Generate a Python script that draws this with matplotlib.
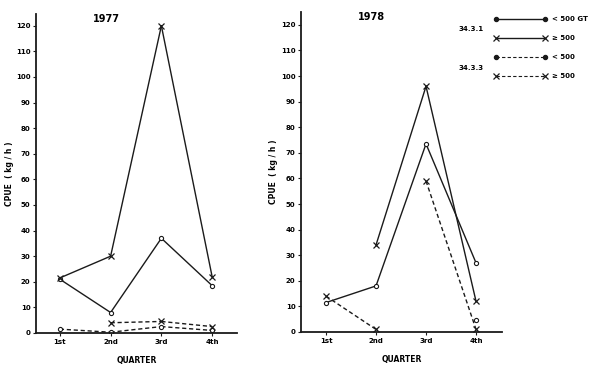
import matplotlib
matplotlib.use("Agg")
import matplotlib.pyplot as plt
from matplotlib.lines import Line2D
import numpy as np

quarters = ["1st", "2nd", "3rd", "4th"]
qpos = [1, 2, 3, 4]

# 1977 (None = no observation)
y77_a_small = [21, 8, 37, 18.5]      # 34.3.1  < 500 GT
y77_a_large = [21.5, 30, 120, 22]    # 34.3.1  >= 500
y77_b_small = [1.5, 0.3, 2.5, 1]     # 34.3.3  < 500
y77_b_large = [None, 4, 4.5, 2.5]    # 34.3.3  >= 500

# 1978
y78_a_small = [11.5, 18, 73.5, 27]
y78_a_large = [None, 34, 96, 12]
y78_b_small = [None, None, None, 4.5]
y78_b_large = [14, 1, 59, 1]
# 1978 34.3.3 >= 500 line is not drawn between 2nd and 3rd quarter
y78_b_large_links = [True, False, True]

yticks = list(range(0, 121, 10))
ink = "#1a1a1a"


def to_arr(vals):
    return np.array([np.nan if v is None else v for v in vals], dtype=float)


def draw_series(ax, vals, ls, marker, links=None):
    y = to_arr(vals)
    x = np.array(qpos, dtype=float)
    ok = ~np.isnan(y)
    if links is None:
        links = [True] * (len(y) - 1)
    for i in range(len(y) - 1):
        if ok[i] and ok[i + 1] and links[i]:
            ln, = ax.plot(x[i:i + 2], y[i:i + 2], color=ink, lw=1.0)
            if ls == "--":
                ln.set_dashes((3, 2))
    if marker == "o":
        ax.plot(x[ok], y[ok], "o", ms=3, mfc="white", mec=ink, mew=0.8, ls="none")
    else:
        ax.plot(x[ok], y[ok], "x", ms=4, color=ink, mew=0.9, ls="none")


def style_axes(ax, title, ylpad):
    for s in ["top", "right"]:
        ax.spines[s].set_visible(False)
    for s in ["left", "bottom"]:
        ax.spines[s].set_linewidth(1.3)
        ax.spines[s].set_color(ink)
    ax.set_yticks(yticks)
    ax.set_yticklabels([str(t) for t in yticks], fontsize=5, fontweight="bold")
    ax.set_xticks(qpos)
    ax.set_xticklabels(quarters, fontsize=5, fontweight="bold")
    ax.tick_params(axis="both", length=2, width=0.8, color=ink, pad=2)
    ax.set_xlabel("QUARTER", fontsize=5.5, fontweight="bold", labelpad=8)
    ax.set_ylabel("CPUE  ( kg / h )", fontsize=5.5, fontweight="bold", labelpad=ylpad)
    ax.text(0.35, 1.0, title, transform=ax.transAxes, fontsize=7, fontweight="bold",
            ha="center", va="top")


fig = plt.figure(figsize=(6, 3.69), dpi=100)

ax1 = fig.add_axes([0.06, 0.0976, 0.335, 0.8645])
draw_series(ax1, y77_a_small, "-", "o")
draw_series(ax1, y77_a_large, "-", "x")
draw_series(ax1, y77_b_small, "--", "o")
draw_series(ax1, y77_b_large, "--", "x")
ax1.set_xlim(0.53, 4.49)
ax1.set_ylim(0, 124.6)
style_axes(ax1, "1977", 1)

ax2 = fig.add_axes([0.5017, 0.1003, 0.335, 0.867])
draw_series(ax2, y78_a_small, "-", "o")
draw_series(ax2, y78_a_large, "-", "x")
draw_series(ax2, y78_b_small, "--", "o")
draw_series(ax2, y78_b_large, "--", "x", y78_b_large_links)
ax2.set_xlim(0.5, 4.52)
ax2.set_ylim(0, 125)
style_axes(ax2, "1978", 2)

# legend drawn in figure coordinates
W, H = 600.0, 369.0
rows = [(19, "-", "o", "< 500 GT"), (38, "-", "x", "\u2265 500"),
        (57, "--", "o", "< 500"), (76, "--", "x", "\u2265 500")]
for ypix, ls, mk, lab in rows:
    yf = 1 - ypix / H
    ln = Line2D([496 / W, 545 / W], [yf, yf], transform=fig.transFigure, color=ink,
                lw=1.0 if ls == "-" else 0.8,
                marker=mk, ms=3 if mk == "o" else 4,
                mfc=ink if mk == "o" else "none", mec=ink, mew=0.9)
    if ls == "--":
        ln.set_dashes((3, 2))
    fig.add_artist(ln)
    fig.text(552 / W, yf, lab, fontsize=5, fontweight="bold", va="center", ha="left")

fig.text(459 / W, 1 - 29 / H, "34.3.1", fontsize=5, fontweight="bold", va="center")
fig.text(459 / W, 1 - 68 / H, "34.3.3", fontsize=5, fontweight="bold", va="center")

fig.savefig("out.png", dpi=100)
